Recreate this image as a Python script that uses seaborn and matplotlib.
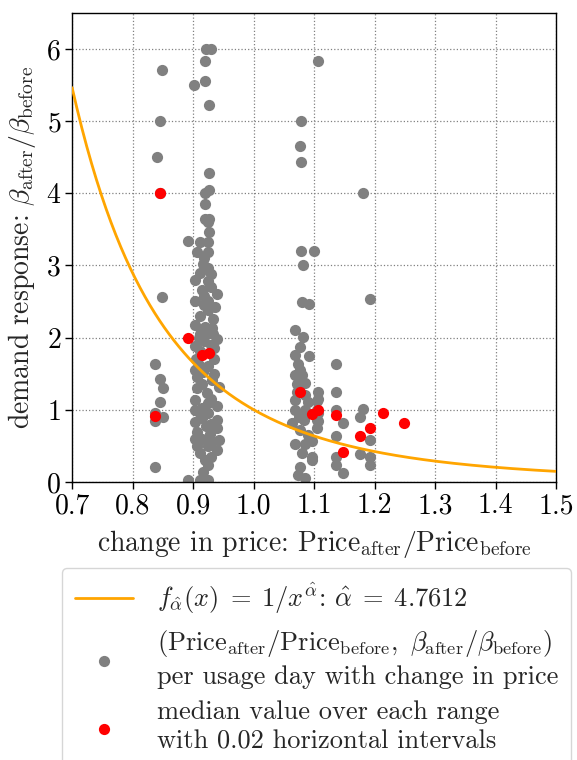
import numpy as np
import pandas as pd
import seaborn as sns
import matplotlib.pyplot as plt

# fitted exponent of the demand curve
alpha_hat = 4.7612

# per usage day points (price ratio, beta ratio)
price_ratio = [
    0.849, 0.845, 0.840, 0.845, 0.849, 0.837, 0.845, 0.850, 0.845, 0.837, 0.850, 0.837, 0.837,
    0.922, 0.930, 0.919, 0.902, 0.919, 0.926, 0.926, 0.920, 0.926, 0.920, 0.920, 0.926, 0.926,
    0.925, 0.891, 0.912, 0.925, 0.906, 0.925, 0.917, 0.925, 0.903, 0.925, 0.914, 0.939, 0.903,
    0.925, 0.936, 0.925, 0.933, 0.903, 0.920, 0.931, 0.925, 0.909, 0.933, 0.939, 0.903, 0.930,
    0.912, 0.935, 0.909, 0.925, 0.906, 0.931, 0.942, 0.906, 0.923, 0.903, 0.925, 0.939, 0.909,
    0.925, 0.903, 0.939, 0.922, 0.906, 0.928, 0.942, 0.906, 0.925, 0.939, 0.920, 0.925, 0.917,
    0.892, 0.911, 0.925, 0.917, 0.915, 0.930, 0.915, 0.915, 0.930, 0.915, 0.930, 0.912, 0.903,
    0.935, 0.903, 0.939, 0.903, 0.930, 0.912, 0.918, 0.912, 0.918, 0.918, 0.930, 0.930, 0.912,
    0.918, 0.905, 0.935,
    1.107, 1.079, 1.076, 1.079, 1.078, 1.100, 1.082, 1.080, 1.091, 1.069, 1.082, 1.077, 1.069,
    1.091, 1.074, 1.069, 1.080, 1.085, 1.072, 1.107, 1.069, 1.105, 1.069, 1.085, 1.105, 1.063,
    1.083, 1.105, 1.077, 1.105, 1.069, 1.096, 1.085, 1.096, 1.096, 1.077, 1.074, 1.085, 1.077,
    1.085, 1.075, 1.090, 1.080, 1.072, 1.090, 1.107, 1.107, 1.107,
    1.136, 1.136, 1.136, 1.148, 1.136, 1.136, 1.136, 1.148, 1.181, 1.193, 1.181, 1.176, 1.193,
    1.176, 1.193, 1.193,
]
demand_ratio = [
    5.71, 5.00, 4.50, 4.00, 2.56, 1.63, 1.42, 1.30, 1.10, 0.95, 0.90, 0.85, 0.20,
    6.00, 6.00, 5.83, 5.50, 5.55, 5.23, 4.28, 4.00, 4.05, 3.85, 3.65, 3.65, 3.47,
    3.60, 3.34, 3.32, 3.32, 3.19, 3.19, 3.02, 2.96, 2.80, 2.79, 2.66, 2.61, 2.50,
    2.51, 2.43, 2.38, 2.26, 2.17, 2.15, 2.13, 2.07, 2.00, 2.05, 1.98, 1.88, 1.90,
    1.82, 1.70, 1.62, 1.60, 1.46, 1.41, 1.32, 1.30, 1.23, 1.13, 1.09, 1.05, 0.97,
    0.95, 0.83, 0.86, 0.78, 0.69, 0.67, 0.58, 0.49, 0.49, 0.44, 0.30, 0.23, 0.14,
    0.03, 0.03, 0.03, 1.52, 1.35, 1.15, 1.02, 0.88, 0.80, 0.60, 0.55, 0.40, 1.55,
    1.50, 1.00, 0.75, 0.60, 0.35, 2.30, 2.45, 2.90, 3.10, 2.58, 2.70, 2.88, 2.05,
    1.95, 1.70, 1.85,
    5.83, 5.00, 4.66, 4.44, 3.20, 3.20, 3.00, 2.49, 2.46, 2.10, 2.01, 1.87, 1.76,
    1.74, 1.64, 1.48, 1.48, 1.37, 1.35, 1.25, 1.13, 1.12, 1.00, 1.00, 1.00, 0.81,
    0.86, 0.86, 0.72, 0.74, 0.53, 0.56, 0.53, 0.35, 0.30, 0.21, 0.10, 0.05, 1.55,
    1.20, 0.90, 0.65, 0.40, 1.25, 1.10, 1.15, 0.95, 0.85,
    1.63, 1.25, 1.00, 0.81, 0.63, 0.34, 0.24, 0.12, 4.00, 2.53, 1.01, 0.90, 0.58,
    0.39, 0.35, 0.24,
]

# medians over 0.02 wide bins
median_price = [0.837, 0.845, 0.891, 0.915, 0.926, 1.077, 1.096, 1.107, 1.136, 1.148,
                1.176, 1.193, 1.213, 1.249]
median_demand = [0.91, 4.00, 2.00, 1.76, 1.78, 1.25, 0.94, 1.00, 0.92, 0.41,
                 0.64, 0.75, 0.96, 0.81]

sns.set_theme(style="ticks")
plt.rcParams["font.family"] = "serif"
plt.rcParams["font.serif"] = ["cmr10", "DejaVu Serif"]
plt.rcParams["mathtext.fontset"] = "cm"
plt.rcParams["axes.formatter.use_mathtext"] = True
plt.rcParams["axes.unicode_minus"] = False

points = pd.DataFrame({"price": price_ratio, "demand": demand_ratio})
medians = pd.DataFrame({"price": median_price, "demand": median_demand})
x_curve = np.linspace(0.7, 1.5, 300)
curve = pd.DataFrame({"price": x_curve, "demand": 1 / x_curve ** alpha_hat})

fig = plt.figure(figsize=(5.77, 7.6), dpi=100)
ax = fig.add_axes([0.125, 0.366, 0.839, 0.617])

sns.scatterplot(data=points, x="price", y="demand", color="gray", s=65, linewidth=0,
                ax=ax, zorder=2,
                label="$(\\mathrm{Price}_{\\mathrm{after}}/\\mathrm{Price}_{\\mathrm{before}},"
                      "\\ \\beta_{\\mathrm{after}}/\\beta_{\\mathrm{before}})$"
                      "\nper usage day with change in price")
sns.lineplot(data=curve, x="price", y="demand", color="orange", linewidth=2.0, ax=ax,
             zorder=3,
             label="$f_{\\hat{\\alpha}}(x)\\;=\\;1/x^{\\hat{\\alpha}}$: "
                   "$\\hat{\\alpha}\\;=\\;4.7612$")
sns.scatterplot(data=medians, x="price", y="demand", color="red", s=65, linewidth=0,
                ax=ax, zorder=4,
                label="median value over each range\nwith 0.02 horizontal intervals")

ax.set_xlim(0.7, 1.5)
ax.set_ylim(0, 6.5)
ax.set_xticks(np.arange(0.7, 1.51, 0.1))
ax.set_yticks(range(0, 7))
ax.set_xticklabels(["0.7", "0.8", "0.9", "1.0", "1.1", "1.2", "1.3", "1.4", "1.5"])
ax.tick_params(labelsize=20, direction="out", length=5, width=1, colors="black", pad=3)
ax.grid(True, linestyle=":", color="gray", linewidth=0.9)
for sp in ax.spines.values():
    sp.set_color("black")
    sp.set_linewidth(1.0)

ax.set_xlabel("change in price: $\\mathrm{Price}_{\\mathrm{after}}/\\mathrm{Price}_{\\mathrm{before}}$",
              fontsize=20, labelpad=6)
ax.set_ylabel("demand response: $\\beta_{\\mathrm{after}}/\\beta_{\\mathrm{before}}$",
              fontsize=20, labelpad=6)

# legend order: fitted curve first, then the two point sets
handles, labels = ax.get_legend_handles_labels()
order = [1, 0, 2]
leg = ax.legend([handles[i] for i in order], [labels[i] for i in order],
                loc="upper left", bbox_to_anchor=(0.107, 0.253),
                bbox_transform=fig.transFigure, borderaxespad=0, fontsize=19,
                frameon=True, labelspacing=0.45, handletextpad=0.9, handlelength=2.2,
                borderpad=0.5)
for t in leg.get_texts():
    t.set_linespacing(1.3)

fig.savefig("out.png", dpi=100)
